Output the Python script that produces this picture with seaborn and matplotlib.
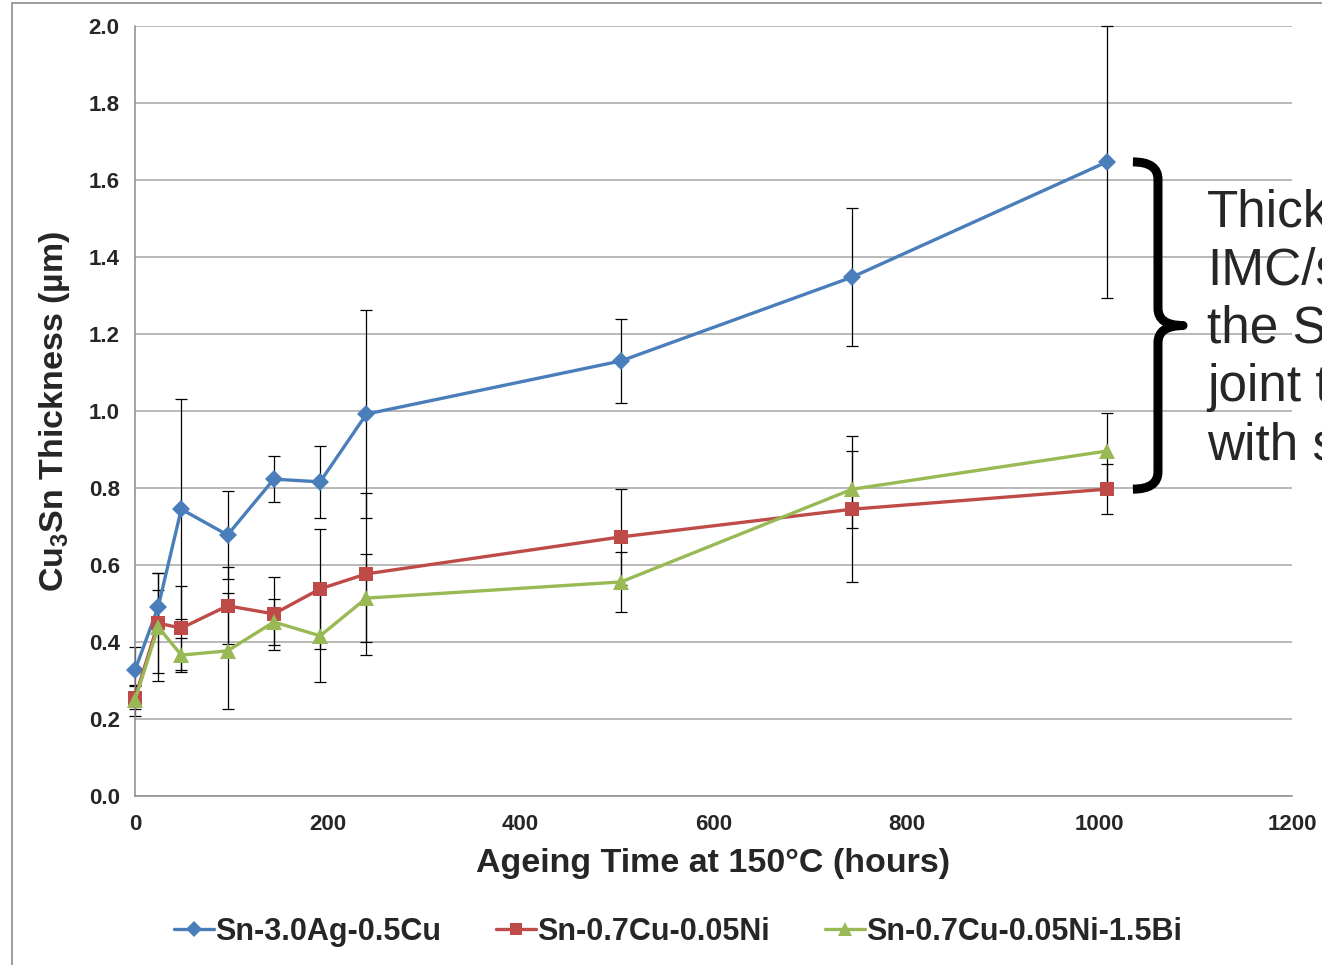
import numpy as np
import pandas as pd
import matplotlib
matplotlib.use("Agg")
import matplotlib.pyplot as plt
import seaborn as sns
from matplotlib.path import Path
from matplotlib.patches import PathPatch, Rectangle
from matplotlib.lines import Line2D

# ---------------- data ----------------
hours = [0, 24, 48, 96, 144, 192, 240, 504, 744, 1008]
series_names = ["Sn-3.0Ag-0.5Cu", "Sn-0.7Cu-0.05Ni", "Sn-0.7Cu-0.05Ni-1.5Bi"]
sac = [0.327, 0.491, 0.745, 0.678, 0.823, 0.816, 0.992, 1.130, 1.348, 1.647]
sac_err = [0.06, 0.045, 0.285, 0.115, 0.06, 0.093, 0.27, 0.108, 0.178, 0.353]
scn = [0.255, 0.449, 0.436, 0.494, 0.473, 0.538, 0.577, 0.673, 0.745, 0.797]
scn_err = [0.03, 0.13, 0.11, 0.10, 0.095, 0.155, 0.21, 0.125, 0.19, 0.065]
scnb = [0.249, 0.439, 0.366, 0.377, 0.452, 0.416, 0.514, 0.556, 0.797, 0.896]
scnb_err = [0.04, 0.14, 0.045, 0.15, 0.06, 0.12, 0.115, 0.078, 0.10, 0.10]
x_ticks = [0, 200, 400, 600, 800, 1000, 1200]
y_ticks = [0.0, 0.2, 0.4, 0.6, 0.8, 1.0, 1.2, 1.4, 1.6, 1.8, 2.0]
annotation_lines = ["Thick", "IMC/s", "the Sn", "joint t", "with s"]

values = [sac, scn, scnb]
errors = [sac_err, scn_err, scnb_err]
colors = ["#4A7EBB", "#BE4B48", "#98B954"]
markers = ["D", "s", "^"]
msizes = [9, 10, 11]

df = pd.concat([
    pd.DataFrame({"hours": hours, "thick": v, "err": e, "alloy": n})
    for n, v, e in zip(series_names, values, errors)
], ignore_index=True)

# ---------------- style ----------------
sns.set_style("white")
plt.rcParams["font.family"] = ["Liberation Sans", "DejaVu Sans"]
plt.rcParams["mathtext.default"] = "regular"

W, H = 1322, 965
fig = plt.figure(figsize=(W / 100, H / 100), dpi=100)
ax = fig.add_axes([135 / W, 1 - 796 / H, (1292 - 135) / W, (796 - 26) / H])

# outer frame (clipped by figure edge)
fig.patches.append(Rectangle((12 / W, -0.1), 1.2, 1 - 3 / H + 0.1,
                             transform=fig.transFigure, fill=False,
                             edgecolor="#8C8C8C", linewidth=1.2))

# error bars
for n, c in zip(series_names, colors):
    d = df[df.alloy == n]
    ax.errorbar(d.hours, d.thick, yerr=d.err, fmt="none", ecolor="black",
                elinewidth=0.9, capsize=4, capthick=0.9, zorder=2, clip_on=False)

# lines + markers via seaborn
sns.lineplot(data=df, x="hours", y="thick", hue="alloy", style="alloy",
             palette=dict(zip(series_names, colors)),
             markers=dict(zip(series_names, markers)), dashes=False,
             linewidth=2.4, markersize=10, markeredgewidth=0,
             legend=False, ax=ax, zorder=3, clip_on=False)
for ln, ms in zip(ax.lines[-3:], msizes):
    ln.set_markersize(ms)

ax.set_xlim(0, 1200)
ax.set_ylim(0, 2.0)
ax.set_xticks(x_ticks)
ax.set_yticks(y_ticks)
ax.set_xticklabels([str(t) for t in x_ticks])
ax.set_yticklabels([f"{t:.1f}" for t in y_ticks])
for lab in ax.get_xticklabels() + ax.get_yticklabels():
    lab.set_fontweight("bold")
    lab.set_fontsize(16)
ax.tick_params(axis="both", direction="out", length=6, width=1,
               color="#8C8C8C", pad=5)
ax.tick_params(axis="x", pad=7)
ax.yaxis.grid(True, color="#A6A6A6", linewidth=1.1)
ax.xaxis.grid(False)
for s in ["top", "right"]:
    ax.spines[s].set_visible(False)
for s in ["left", "bottom"]:
    ax.spines[s].set_color("#8C8C8C")
    ax.spines[s].set_linewidth(1.1)

ax.set_xlabel("Ageing Time at 150°C (hours)", fontsize=24.5, fontweight="bold", labelpad=9)
ax.set_ylabel("Cu$_3$Sn Thickness (µm)", fontsize=24.5, fontweight="bold", labelpad=12)

# brace spanning the end-point spread
top = sac[-1]
bot = scn[-1]
mid = (top + bot) / 2
x0 = hours[-1] + 27
x1 = x0 + 26
x2 = x1 + 26
r = 0.045
verts = [(x0, top), (x1, top), (x1, top - r),
         (x1, mid + r), (x1, mid), (x2, mid),
         (x1, mid), (x1, mid - r),
         (x1, bot + r), (x1, bot), (x0, bot)]
codes = [Path.MOVETO, Path.CURVE3, Path.CURVE3,
         Path.LINETO, Path.CURVE3, Path.CURVE3,
         Path.CURVE3, Path.CURVE3,
         Path.LINETO, Path.CURVE3, Path.CURVE3]
brace = PathPatch(Path(verts, codes), facecolor="none", edgecolor="black",
                  linewidth=6.5, capstyle="butt", joinstyle="round", clip_on=False, zorder=5)
ax.add_patch(brace)

ax.text(x2 + 25, mid - 0.01, "\n".join(annotation_lines), fontsize=37,
        ha="left", va="center", linespacing=1.24, clip_on=False)

# legend
handles = [Line2D([0], [0], color=c, marker=m, markersize=ms * 0.9, linewidth=2.4,
                  markeredgewidth=0) for c, m, ms in zip(colors, markers, msizes)]
fig.legend(handles, series_names, loc="center", bbox_to_anchor=(0.513, 1 - 932 / H),
           ncol=3, frameon=False, handlelength=1.3, handletextpad=0.05,
           columnspacing=1.8, prop={"weight": "bold", "size": 22})

fig.savefig("out.png", dpi=100)
